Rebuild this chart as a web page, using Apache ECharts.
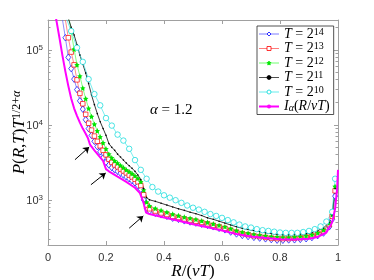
<!DOCTYPE html>
<html><head><meta charset="utf-8">
<script src="https://cdn.jsdelivr.net/npm/echarts@6/dist/echarts.min.js"></script>
<style>html,body{margin:0;padding:0;background:#fff}#c{width:374px;height:280px}</style>
</head><body><div id="c"></div>
<script>
// R/(vT) sample positions for the simulated curves
const xT = [0.05,0.06,0.07,0.08,0.09,0.10,0.11,0.12,0.13,0.14,0.15,0.16,0.17,0.18,0.19,0.20,0.21,0.22,0.23,0.24,0.25,0.26,0.27,0.28,0.29,0.30,0.31,0.32,0.33,0.34,0.35,
  0.37,0.39,0.41,0.43,0.45,0.47,0.49,0.51,0.53,0.55,0.57,0.59,0.61,0.63,0.65,0.67,0.69,0.71,0.73,0.75,0.77,0.79,0.81,0.83,0.85,0.87,0.89,0.91,0.93,0.95,0.97,0.98,0.99];
const T14 = [251000,145000,79400,56200,40700,29500,20900,16200,11700,8910,7240,6030,5130,4370,3630,3160,2920,2690,2510,2400,2260,2140,2020,1910,1800,1680,1550,1380,1000,776,708,
  661,631,603,569,550,525,507,490,473,457,437,417,398,372,351,335,324,316,309,302,295,290,289,292,293,297,303,314,333,361,437,550,1120];
const T13 = [null,251000,145000,93300,63100,39800,26300,19100,13800,10500,8510,7080,6030,5250,4570,3980,3470,3160,2920,2750,2570,2430,2290,2140,2020,1880,1740,1550,1170,851,759,
  708,668,638,603,582,556,537,519,501,479,457,437,417,394,372,355,343,331,324,316,309,305,305,305,309,313,320,331,351,385,468,603,1320];
const T12 = [null,null,302000,174000,102000,63100,44700,30900,22400,16600,12900,10200,8320,6920,5750,4790,4070,3630,3310,3090,2880,2690,2510,2370,2240,2090,1930,1740,1350,933,832,
  767,724,684,646,617,589,569,550,525,501,479,457,437,412,389,372,359,347,339,331,324,320,316,316,320,324,331,343,363,398,490,631,1510];
const T11 = [null,null,263000,200000,158000,117000,85100,64600,49000,35500,25100,18600,14100,11000,8910,7240,5620,5010,4570,4070,3720,3390,3090,2850,2630,2400,2140,1860,1410,1070,1000,
  955,902,851,804,759,724,684,653,617,575,550,519,490,462,437,417,403,389,376,363,355,347,343,343,347,351,355,367,389,422,501,631,1410];
const xC = [0.06,0.08,0.10,0.12,0.14,0.16,0.18,0.20,0.22,0.24,0.26,0.28,0.30,0.32,0.34,0.36,0.38,0.40,0.42,0.44,0.46,0.48,0.50,0.52,0.54,0.56,0.58,0.60,
  0.62,0.64,0.66,0.68,0.70,0.72,0.74,0.76,0.78,0.80,0.82,0.84,0.86,0.88,0.90,0.92,0.94,0.96,0.98,0.99];
const T10 = [282000,178000,107000,69200,40700,25700,18200,12300,9770,7410,6170,4790,3390,2510,1910,1480,1290,1150,1070,989,912,841,785,741,692,646,610,575,
  537,501,468,442,427,407,394,385,376,367,363,363,363,372,385,407,442,513,692,1910];
// theoretical curve I_alpha(R/vT)
const xM = [0.025,0.03,0.04,0.05,0.06,0.07,0.08,0.09,0.10,0.11,0.12,0.13,0.138,0.145,0.16,0.175,0.19,0.20,0.21,0.24,0.27,0.30,0.317,0.328,0.338,0.35,0.40,0.45,0.50,0.55,
  0.60,0.65,0.70,0.75,0.80,0.85,0.90,0.93,0.96,0.98,0.99,0.997,1.0];
const yM = [302000,234000,141000,83200,51300,33100,22400,16600,13200,10700,8910,7590,6610,5430,4570,3890,3310,2570,2400,2040,1740,1450,1230,955,676,646,582,525,473,432,
  389,351,324,309,299,295,302,320,367,501,759,1410,2510];
// annotation arrows: [tail, head] in data coordinates
const arrows = [[[0.093,3430],[0.142,5070]],[[0.148,1590],[0.199,2280]],[[0.280,419],[0.3286,611]]];
const yMajor = [1000,10000,100000];
const yMinor = [300,400,500,600,700,800,900,2000,3000,4000,5000,6000,7000,8000,9000,20000,30000,40000,50000,60000,70000,80000,90000,200000];
const legendNames = {
  T14:'{it|T}{n| = 2}{sup|14}', T13:'{it|T}{n| = 2}{sup|13}', T12:'{it|T}{n| = 2}{sup|12}',
  T11:'{it|T}{n| = 2}{sup|11}', T10:'{it|T}{n| = 2}{sup|10}', I:'{it|I}{sub|α}{n|(}{it|R}{n|/}{it|vT}{n|)}'
};

const SERIF = 'Liberation Serif';
const AX = '#a0a0a0';
const LBL = '#333';
const pair = (xs, ys) => xs.map((x,i)=>[x, ys[i]]);
const richMath = (fs) => ({
  it:{fontFamily:SERIF,fontStyle:'italic',fontSize:fs,lineHeight:fs,verticalAlign:'bottom',color:'#000'},
  n:{fontFamily:SERIF,fontSize:fs,lineHeight:fs,verticalAlign:'bottom',color:'#000'},
  sup:{fontFamily:SERIF,fontSize:Math.round(fs*0.72),lineHeight:Math.round(fs*0.72),verticalAlign:'top',color:'#000'},
  supi:{fontFamily:SERIF,fontStyle:'italic',fontSize:Math.round(fs*0.72),lineHeight:Math.round(fs*0.72),verticalAlign:'top',color:'#000'},
  sub:{fontFamily:SERIF,fontStyle:'italic',fontSize:Math.round(fs*0.72),lineHeight:Math.round(fs*0.72),verticalAlign:'bottom',color:'#000'}
});
const starPath = 'path://M0,-10L2.9,-4L9.5,-3.1L4.7,1.5L5.9,8.1L0,5L-5.9,8.1L-4.7,1.5L-9.5,-3.1L-2.9,-4Z';

function yAx(pos, ticks, len, withLine, withLabel, extra) {
  return Object.assign({
    type:'log', min:250, max:250000, position:pos, logBase:10,
    axisLine:{show:withLine, lineStyle:{color:AX,width:1}},
    axisTick:{show:true, inside:true, length:len, customValues:ticks, lineStyle:{color:AX,width:1}},
    axisLabel:{show:withLabel, customValues:yMajor, margin:5, color:LBL,
      formatter: v => '{b|10}{s|' + Math.round(Math.log10(v)) + '}',
      rich:{b:{fontFamily:'Liberation Sans',fontSize:11,lineHeight:13,verticalAlign:'bottom',color:LBL},
            s:{fontFamily:'Liberation Sans',fontSize:8,lineHeight:8,verticalAlign:'top',color:LBL}}},
    splitLine:{show:false}, minorTick:{show:false}
  }, extra||{});
}

const legItem = (name, fill, stroke) => ({name, itemStyle:{color:fill, borderColor:stroke, borderWidth:0.8}});

const chart = echarts.init(document.getElementById('c'), null, {renderer:'canvas'});
chart.setOption({
  animation:false,
  backgroundColor:'#fff',
  grid:{left:48,right:36,top:20,bottom:35,containLabel:false,outerBoundsMode:'none'},
  xAxis:[
    {type:'value',min:0,max:1,interval:0.2,position:'bottom',
     axisLine:{lineStyle:{color:AX,width:1}},
     axisTick:{inside:true,length:4,lineStyle:{color:AX}},
     axisLabel:{color:LBL,fontFamily:'Liberation Sans',fontSize:11,margin:7},
     splitLine:{show:false},
     name:'{it|R}{n|/(}{it|vT}{n|)}', nameLocation:'middle', nameGap:18, nameMoveOverlap:false,
     nameTextStyle:{rich:richMath(17)}},
    {type:'value',min:0,max:1,interval:0.2,position:'top',
     axisLine:{lineStyle:{color:AX,width:1}},
     axisTick:{inside:true,length:4,lineStyle:{color:AX}},
     axisLabel:{show:false},splitLine:{show:false}}
  ],
  yAxis:[
    yAx('left', yMajor, 4, true, true, {
      name:'{it|P}{n|(}{it|R}{n|,}{it|T}{n|)}{it|T}{sup|1/2+}{supi|α}',
      nameLocation:'middle', nameRotate:90, nameGap:20, nameMoveOverlap:false,
      nameTextStyle:{rich:richMath(17)}}),
    yAx('left', yMinor, 2.5, false, false),
    yAx('right', yMajor, 4, true, false),
    yAx('right', yMinor, 2.5, false, false)
  ],
  legend:{
    orient:'vertical', left:257, top:26,
    backgroundColor:'#fff', borderColor:'#262626', borderWidth:0.8, borderRadius:0,
    padding:[1,4,1,1], itemWidth:20, itemHeight:5, itemGap:0.5,
    lineStyle:{width:0.8},
    textStyle:{fontFamily:SERIF,fontSize:14,lineHeight:14,color:'#000',rich:richMath(14)},
    formatter: n => legendNames[n],
    data:[legItem('T14','#fff','#0000ff'), legItem('T13','#fff','#ff0000'), legItem('T12','#00e600','#00e600'),
          legItem('T11','#000','#000'), legItem('T10','#fff','#00d8d8'), {name:'I', lineStyle:{width:2}}]
  },
  graphic:[{type:'text', left:150, top:103, z:10,
    style:{text:'{it|α}{n| = 1.2}', rich:richMath(15)}}],
  series:[
    {name:'T14',type:'line',data:pair(xT,T14),symbol:'diamond',symbolSize:[5,6.5],
     itemStyle:{color:'#fff',borderColor:'#0000ff',borderWidth:0.7},lineStyle:{color:'#5a5aff',width:0.7},z:2},
    {name:'T13',type:'line',data:pair(xT,T13),symbol:'rect',symbolSize:4.5,
     itemStyle:{color:'#fff',borderColor:'#ff0000',borderWidth:0.7},lineStyle:{color:'#ff5a5a',width:0.7},z:2},
    {name:'T12',type:'line',data:pair(xT,T12),symbol:starPath,symbolSize:5.5,
     itemStyle:{color:'#00e600'},lineStyle:{color:'#4dff4d',width:0.7},z:2},
    {name:'T11',type:'line',data:pair(xT,T11),symbol:'circle',symbolSize:1.6,
     itemStyle:{color:'#000'},lineStyle:{color:'#222',width:0.9},z:2},
    {name:'T10',type:'line',data:pair(xC,T10),symbol:'circle',symbolSize:5.5,
     itemStyle:{color:'#fff',borderColor:'#00d8d8',borderWidth:0.7},lineStyle:{color:'#40e8e8',width:0.7},z:2},
    {name:'I',type:'line',data:pair(xM,yM),symbol:'none',
     itemStyle:{color:'#ff00ff'},lineStyle:{color:'#ff00ff',width:2},z:3,
     markLine:{silent:true,symbol:['none','arrow'],symbolSize:6,animation:false,
       lineStyle:{color:'#000',width:1,type:'solid'},label:{show:false},emphasis:{disabled:true},
       data:arrows.map(a=>[{coord:a[0]},{coord:a[1]}])}}
  ]
});
</script></body></html>
